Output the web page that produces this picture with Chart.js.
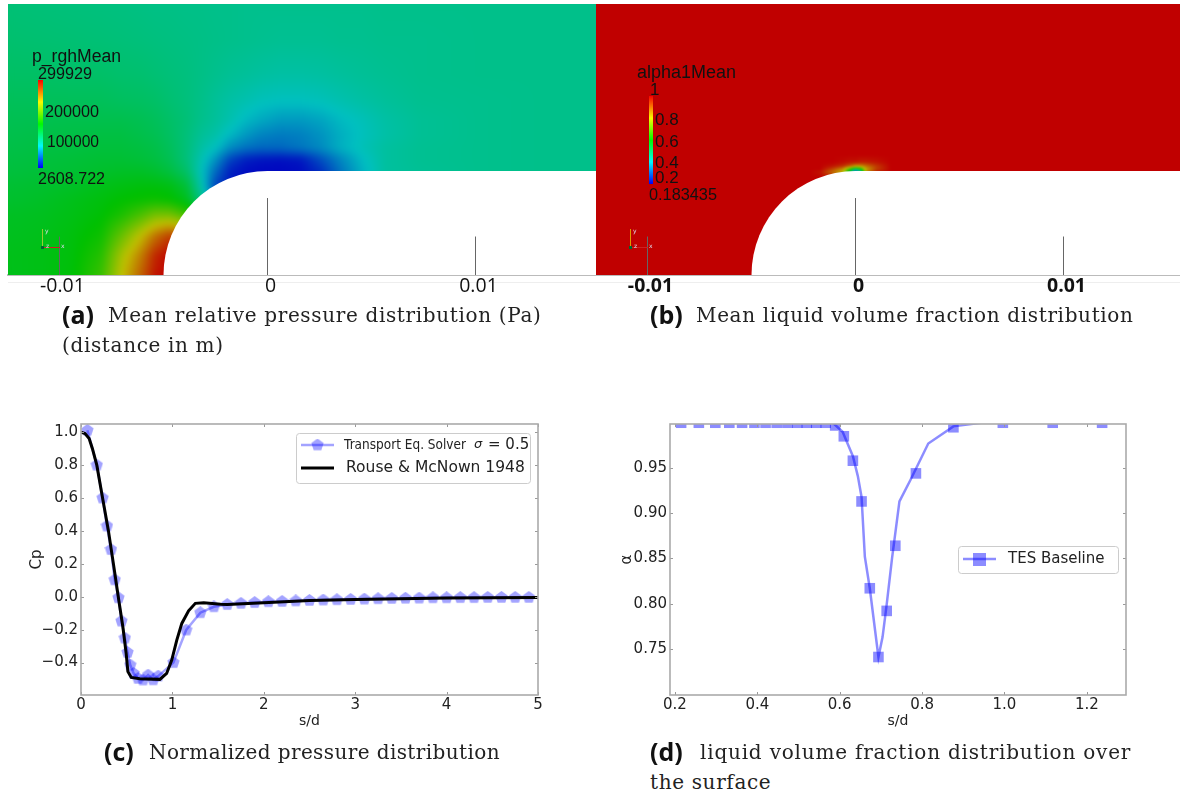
<!DOCTYPE html>
<html>
<head>
<meta charset="utf-8">
<title>Cavitating nozzle results</title>
<script src="https://cdn.jsdelivr.net/npm/chart.js@4"></script>
<style>
  body { margin: 0; background: #fff; width: 1180px; height: 796px; overflow: hidden; position: relative; }
  canvas { position: absolute; }
  #chartC, #chartD { filter: blur(0.5px); }
  .cap { position: absolute; font-family: "DejaVu Serif", serif; font-size: 20px; letter-spacing: 0.65px; color: #222; white-space: nowrap; line-height: 24px; }
  .cap b { font-family: "Open Sans", sans-serif; font-weight: 700; font-size: 25px; letter-spacing: 0; color: #111; }
  .rule { position: absolute; left: 8px; width: 1172px; top: 282px; height: 1px; background: #eee; }
</style>
</head>
<body>
<div class="rule"></div>
<canvas id="chartA" width="596" height="305" style="left:0;top:0"></canvas>
<canvas id="chartB" width="584" height="305" style="left:596px;top:0"></canvas>
<canvas id="chartC" width="560" height="340" style="left:0;top:400px"></canvas>
<canvas id="chartD" width="560" height="340" style="left:610px;top:400px"></canvas>

<div class="cap" style="left:62px;top:302px"><b>(a)</b></div>
<div class="cap" style="left:108px;top:303px">Mean relative pressure distribution (Pa)</div>
<div class="cap" style="left:62px;top:333px">(distance in m)</div>
<div class="cap" style="left:650px;top:302px"><b>(b)</b></div>
<div class="cap" style="left:696px;top:303px">Mean liquid volume fraction distribution</div>
<div class="cap" style="left:104px;top:739px"><b>(c)</b></div>
<div class="cap" style="left:149px;top:740px;letter-spacing:0.4px">Normalized pressure distribution</div>
<div class="cap" style="left:650px;top:739px"><b>(d)</b></div>
<div class="cap" style="left:700px;top:740px;letter-spacing:0.8px">liquid volume fraction distribution over</div>
<div class="cap" style="left:650px;top:770px">the surface</div>

<script>
// s/d vs Cp, panel (c)
const solverS = [0.07, 0.173, 0.236, 0.284, 0.328, 0.369, 0.41, 0.443, 0.48, 0.509, 0.539, 0.576, 0.624, 0.679, 0.734, 0.79, 0.845, 1.011, 1.151, 1.306, 1.454, 1.6, 1.75, 1.9, 2.05, 2.2, 2.35, 2.5, 2.65, 2.8, 2.95, 3.1, 3.25, 3.4, 3.55, 3.7, 3.85, 4.0, 4.15, 4.3, 4.45, 4.6, 4.75, 4.9];
const solverCp = [1.012, 0.8, 0.6, 0.43, 0.287, 0.103, -0.006, -0.148, -0.251, -0.338, -0.415, -0.466, -0.496, -0.506, -0.476, -0.505, -0.482, -0.4, -0.202, -0.097, -0.061, -0.047, -0.04, -0.035, -0.03, -0.028, -0.025, -0.022, -0.02, -0.018, -0.016, -0.014, -0.012, -0.01, -0.009, -0.008, -0.006, -0.006, -0.005, -0.005, -0.004, -0.004, -0.004, -0.004];
const rouseS = [0, 0.044, 0.089, 0.125, 0.173, 0.236, 0.299, 0.365, 0.413, 0.458, 0.494, 0.513, 0.55, 0.642, 0.863, 0.937, 0.993, 1.048, 1.103, 1.177, 1.251, 1.343, 1.528, 1.6, 2.0, 2.5, 3.0, 4.0, 5.0];
const rouseCp = [1.0, 0.992, 0.962, 0.9, 0.8, 0.6, 0.405, 0.162, -0.02, -0.182, -0.344, -0.455, -0.49, -0.498, -0.502, -0.466, -0.385, -0.263, -0.162, -0.085, -0.04, -0.036, -0.045, -0.047, -0.036, -0.022, -0.017, -0.007, -0.005];
const cpXTicks = [0, 1, 2, 3, 4, 5];
const cpYTicks = [-0.4, -0.2, 0, 0.2, 0.4, 0.6, 0.8, 1.0];

// s/d vs alpha, panel (d)
const alphaLineS = [0.2, 0.4, 0.583, 0.607, 0.632, 0.644, 0.653, 0.661, 0.673, 0.694, 0.704, 0.714, 0.727, 0.745, 0.772, 0.815, 0.876, 0.944, 1.3];
const alphaLineV = [1, 1, 1, 0.99, 0.963, 0.941, 0.918, 0.852, 0.817, 0.741, 0.763, 0.799, 0.85, 0.913, 0.937, 0.977, 0.996, 1, 1];
const alphaMarkS = [0.215, 0.258, 0.298, 0.332, 0.363, 0.393, 0.42, 0.447, 0.473, 0.497, 0.52, 0.543, 0.566, 0.589, 0.61, 0.632, 0.653, 0.673, 0.694, 0.714, 0.735, 0.785, 0.876, 0.996, 1.117, 1.237];
const alphaMarkV = [1, 1, 1, 1, 1, 1, 1, 1, 1, 1, 1, 1, 1, 0.997, 0.985, 0.958, 0.913, 0.817, 0.741, 0.792, 0.864, 0.944, 0.995, 1, 1, 1];
const alphaXTicks = [0.2, 0.4, 0.6, 0.8, 1.0, 1.2];
const alphaYTicks = [0.75, 0.8, 0.85, 0.9, 0.95];

// field panels, distances in mm
const distTicks = [-10, 0, 10];
const distLabels = ['-0.01', '0', '0.01'];
const tickTops = [1.85, 3.7, 1.85];
const noseRadius = 5;

const pressureX = [-12.45, -10.9, -9.4, -8.0, -7.0, -6.1, -5.4, -4.7, -3.9, -3.2, -2.5, -1.8, -1.05, -0.35, 0.6, 1.6, 2.55, 3.5, 4.5, 5.65, 7.35, 10.25, 13.1, 15.8];
const pressureY = [0, 0.95, 1.9, 2.9, 3.6, 4.3, 5.0, 5.55, 6.1, 6.75, 7.45, 8.4, 9.6, 11.3, 13.05];
// kPa, one row per pressureY
const pressureKPa = [
  [140, 142, 147, 172, 225, 262, 292, 300, 300, 300, 300, 300, 300, 300, 300, 300, 300, 300, 300, 300, 300, 300, 300, 300],
  [140, 142, 146, 164, 215, 250, 285, 298, 298, 298, 298, 298, 298, 298, 298, 298, 298, 298, 298, 298, 298, 298, 298, 298],
  [138, 140, 145, 155, 190, 225, 255, 275, 260, 240, 240, 240, 240, 240, 240, 240, 240, 240, 240, 240, 240, 240, 240, 240],
  [136, 138, 142, 148, 160, 178, 195, 195, 175, 150, 130, 100, 100, 100, 100, 100, 100, 100, 100, 100, 100, 100, 100, 100],
  [132, 135, 140, 145, 150, 153, 155, 152, 140, 100, 50, 30, 10, 10, 10, 10, 10, 60, 70, 88, 92, 95, 96, 96],
  [130, 132, 135, 140, 143, 145, 145, 142, 128, 85, 25, 10, 5, 3, 3, 5, 10, 38, 68, 88, 92, 95, 96, 96],
  [126, 128, 130, 133, 135, 135, 132, 125, 110, 78, 42, 12, 5, 3, 3, 5, 18, 45, 68, 88, 92, 95, 96, 96],
  [124, 126, 128, 130, 130, 128, 125, 118, 103, 82, 57, 26, 12, 8, 6, 9, 30, 52, 72, 88, 93, 95, 96, 96],
  [122, 124, 125, 127, 127, 125, 122, 115, 103, 87, 75, 54, 44, 40, 40, 46, 54, 68, 78, 88, 93, 95, 96, 96],
  [120, 122, 123, 124, 124, 121, 118, 112, 103, 92, 85, 72, 60, 52, 48, 50, 57, 68, 76, 85, 92, 95, 96, 96],
  [118, 119, 120, 120, 120, 118, 115, 110, 104, 96, 90, 82, 72, 66, 60, 60, 64, 72, 78, 86, 92, 95, 96, 96],
  [115, 115, 115, 115, 113, 112, 110, 106, 102, 97, 91, 86, 82, 78, 76, 76, 78, 82, 86, 90, 94, 95, 96, 96],
  [111, 111, 110, 110, 108, 107, 105, 103, 101, 98, 95, 92, 90, 88, 86, 86, 87, 89, 91, 93, 95, 96, 96, 96],
  [107, 106, 105, 104, 103, 102, 101, 100, 99, 98, 97, 96, 95, 94, 93, 93, 93, 94, 94, 95, 95, 96, 96, 96],
  [104, 103, 102, 101, 100, 99, 98, 98, 97, 97, 96, 96, 95, 95, 95, 95, 95, 95, 95, 96, 96, 96, 96, 96]
];

const liquidX = [-12.5, -2.2, -1.7, -1.1, -0.6, -0.25, 0, 0.25, 0.5, 1.0, 1.7, 15.7];
const liquidY = [0, 4.66, 4.95, 5.1, 5.24, 5.43, 5.77, 13.05];
const liquidAlpha = [
  [1, 1, 1, 1, 1, 1, 1, 1, 1, 1, 1, 1],
  [1, 1, 1, 1, 0.92, 0.7, 0.5, 0.7, 0.92, 1, 1, 1],
  [1, 1, 0.98, 0.88, 0.8, 0.5, 0.22, 0.4, 0.85, 0.97, 1, 1],
  [1, 1, 1, 0.93, 0.85, 0.65, 0.5, 0.6, 0.82, 0.93, 1, 1],
  [1, 1, 1, 0.98, 0.95, 0.9, 0.85, 0.85, 0.88, 0.94, 1, 1],
  [1, 1, 1, 1, 0.99, 0.98, 0.98, 0.97, 0.97, 0.98, 1, 1],
  [1, 1, 1, 1, 1, 1, 1, 1, 1, 1, 1, 1],
  [1, 1, 1, 1, 1, 1, 1, 1, 1, 1, 1, 1]
];

const rainbow = [[0, 0, 192], [0, 192, 192], [0, 192, 0], [192, 192, 0], [192, 0, 0]];

function rainbowAt(t) {
  t = Math.min(1, Math.max(0, t)) * 4;
  const i = Math.min(3, Math.floor(t));
  const f = t - i;
  return rainbow[i].map((c, k) => Math.round(c + (rainbow[i + 1][k] - c) * f));
}

function bracket(list, v) {
  let i = 0;
  while (i < list.length - 2 && list[i + 1] < v) i++;
  return i;
}

function sampleField(xs, ys, rows, x, y) {
  const i = bracket(xs, x), j = bracket(ys, y);
  const fx = Math.min(1, Math.max(0, (x - xs[i]) / (xs[i + 1] - xs[i])));
  const fy = Math.min(1, Math.max(0, (y - ys[j]) / (ys[j + 1] - ys[j])));
  const low = rows[j][i] + (rows[j][i + 1] - rows[j][i]) * fx;
  const high = rows[j + 1][i] + (rows[j + 1][i + 1] - rows[j + 1][i]) * fx;
  return low + (high - low) * fy;
}

// paints the contour field through the scales, then cuts out the white nozzle wall
const fieldPlugin = {
  id: 'field',
  beforeDatasetsDraw(chart, args, opts) {
    if (!opts.rows) return;
    const area = chart.chartArea, sx = chart.scales.x, sy = chart.scales.y;
    const w = Math.round(area.right - area.left), h = Math.round(area.bottom - area.top);
    const off = document.createElement('canvas');
    off.width = w; off.height = h;
    const octx = off.getContext('2d');
    const img = octx.createImageData(w, h);
    for (let py = 0; py < h; py++) {
      const y = sy.getValueForPixel(area.top + py + 0.5);
      for (let px = 0; px < w; px++) {
        const x = sx.getValueForPixel(area.left + px + 0.5);
        const c = rainbowAt(opts.toUnit(sampleField(opts.xs, opts.ys, opts.rows, x, y)));
        const k = (py * w + px) * 4;
        img.data[k] = c[0]; img.data[k + 1] = c[1]; img.data[k + 2] = c[2]; img.data[k + 3] = 255;
      }
    }
    octx.putImageData(img, 0, 0);
    const ctx = chart.ctx;
    ctx.save();
    ctx.beginPath();
    ctx.rect(area.left, area.top, w, h);
    ctx.clip();
    // sharp copy first so the blurred one does not fade out at the edges
    ctx.drawImage(off, area.left, area.top);
    ctx.filter = 'blur(' + opts.blur + 'px)';
    ctx.drawImage(off, area.left, area.top);
    ctx.filter = 'none';
    const cx = sx.getPixelForValue(0), cy = sy.getPixelForValue(0);
    const r = cx - sx.getPixelForValue(-noseRadius);
    ctx.fillStyle = '#fff';
    ctx.beginPath();
    ctx.moveTo(cx - r, cy);
    ctx.arc(cx, cy, r, Math.PI, Math.PI * 1.5);
    ctx.lineTo(area.right + 2, cy - r);
    ctx.lineTo(area.right + 2, cy + 2);
    ctx.lineTo(cx - r, cy + 2);
    ctx.closePath();
    ctx.fill();
    ctx.restore();
  },
  afterDatasetsDraw(chart, args, opts) {
    if (!opts.bar) return;
    const ctx = chart.ctx, b = opts.bar;
    ctx.save();
    const grad = ctx.createLinearGradient(0, b.bottom, 0, b.top);
    rainbow.forEach((c, i) => grad.addColorStop(i / 4, 'rgb(' + c.map(v => Math.min(255, Math.round(v * 1.3))).join(',') + ')'));
    ctx.fillStyle = grad;
    ctx.fillRect(b.x, b.top, b.w, b.bottom - b.top);
    ctx.fillStyle = '#111';
    ctx.textBaseline = 'middle';
    b.labels.forEach(l => {
      ctx.font = (l[4] ? '18px' : '17px') + ' "Liberation Sans"';
      ctx.fillText(l[0], l[1], l[2], l[3]);
    });
    // orientation triad
    const t = opts.triad;
    ctx.lineWidth = 1;
    ctx.strokeStyle = t.up;
    ctx.beginPath(); ctx.moveTo(t.x + 0.5, t.y); ctx.lineTo(t.x + 0.5, t.y - 18); ctx.stroke();
    ctx.strokeStyle = '#c22';
    ctx.beginPath(); ctx.moveTo(t.x, t.y + 0.5); ctx.lineTo(t.x + 18, t.y + 0.5); ctx.stroke();
    ctx.fillStyle = '#063';
    ctx.fillRect(t.x - 1, t.y - 1, 3, 3);
    ctx.fillStyle = '#dde';
    ctx.font = '6px "DejaVu Sans"';
    ctx.fillText('y', t.x + 3, t.y - 16);
    ctx.fillText('z', t.x + 4, t.y - 1);
    ctx.fillText('x', t.x + 19, t.y - 1);
    ctx.restore();
  }
};

// frame with matplotlib style inward ticks plus the boxed legend
const framePlugin = {
  id: 'frame',
  afterDatasetsDraw(chart, args, opts) {
    if (!opts.color) return;
    const ctx = chart.ctx, a = chart.chartArea;
    ctx.save();
    ctx.strokeStyle = '#999';
    ctx.lineWidth = 1;
    ctx.beginPath();
    chart.scales.x.ticks.forEach(t => {
      const x = Math.round(chart.scales.x.getPixelForValue(t.value)) + 0.5;
      ctx.moveTo(x, a.bottom); ctx.lineTo(x, a.bottom - 3);
      ctx.moveTo(x, a.top); ctx.lineTo(x, a.top + 3);
    });
    chart.scales.y.ticks.forEach(t => {
      const y = Math.round(chart.scales.y.getPixelForValue(t.value)) + 0.5;
      ctx.moveTo(a.left, y); ctx.lineTo(a.left + 3, y);
      ctx.moveTo(a.right, y); ctx.lineTo(a.right - 3, y);
    });
    ctx.stroke();
    ctx.strokeStyle = opts.color;
    ctx.lineWidth = 1.6;
    ctx.strokeRect(a.left, a.top, a.right - a.left, a.bottom - a.top);

    const box = opts.legend;
    ctx.fillStyle = '#fff';
    ctx.strokeStyle = '#ccc';
    ctx.lineWidth = 1;
    ctx.beginPath();
    ctx.roundRect(box.x + 0.5, box.y + 0.5, box.w, box.h, 3);
    ctx.fill();
    ctx.stroke();
    box.rows.forEach(row => {
      const x0 = box.x + 5, x1 = box.x + 38;
      ctx.strokeStyle = row.color;
      ctx.lineWidth = row.width;
      ctx.beginPath(); ctx.moveTo(x0, row.y); ctx.lineTo(x1, row.y); ctx.stroke();
      if (row.marker) ctx.drawImage(row.marker, (x0 + x1) / 2 - row.marker.width / 2, row.y - row.marker.height / 2);
      ctx.fillStyle = '#222';
      ctx.textBaseline = 'middle';
      row.texts.forEach(t => {
        ctx.font = t.font;
        ctx.fillText(t.text, t.x, row.y, t.max);
      });
    });
    ctx.restore();
  }
};

Chart.register(fieldPlugin, framePlugin);
Chart.defaults.animation = false;
Chart.defaults.responsive = false;
Chart.defaults.font.family = '"DejaVu Sans"';
Chart.defaults.color = '#222';

function pentagonMarker(size, fill) {
  const c = document.createElement('canvas');
  c.width = c.height = size;
  const ctx = c.getContext('2d');
  ctx.fillStyle = fill;
  ctx.beginPath();
  for (let i = 0; i < 5; i++) {
    const a = -Math.PI / 2 + i * 2 * Math.PI / 5;
    ctx.lineTo(size / 2 + size / 2 * Math.cos(a), size / 2 + size / 2 * Math.sin(a));
  }
  ctx.fill();
  return c;
}

function squareMarker(size, fill) {
  const c = document.createElement('canvas');
  c.width = c.height = size;
  const ctx = c.getContext('2d');
  ctx.fillStyle = fill;
  ctx.fillRect(0, 0, size, size);
  return c;
}

function pairs(xs, ys) {
  return xs.map((x, i) => ({ x: x, y: ys[i] }));
}

function fieldChart(id, xMin, xMax, fontWeight, field) {
  const ticks = distTicks.map((x, i) => ({
    data: [{ x: x, y: 0 }, { x: x, y: tickTops[i] }],
    borderColor: '#666', borderWidth: 1, pointRadius: 0, showLine: true
  }));
  new Chart(document.getElementById(id), {
    type: 'scatter',
    data: { datasets: ticks },
    options: {
      layout: { padding: field.padding },
      plugins: { legend: { display: false }, tooltip: { enabled: false }, field: field },
      scales: {
        x: {
          type: 'linear', min: xMin, max: xMax,
          afterBuildTicks: s => { s.ticks = distTicks.map(v => ({ value: v })); },
          afterFit: s => { s.height = 30; s.paddingLeft = 0; s.paddingRight = 0; },
          grid: { display: false, drawTicks: false },
          border: { color: '#bbb', width: 2 },
          ticks: {
            autoSkip: false, maxRotation: 0, padding: 0, labelOffset: 3,
            font: { size: 19.5, weight: fontWeight, family: '"Open Sans"' }, color: '#111',
            callback: (v, i) => distLabels[i]
          }
        },
        y: { type: 'linear', min: 0, max: 13.03, display: false }
      }
    }
  });
}

function lineScales(xMin, xMax, yMin, yMax, xTicks, yTicks, xFmt, yFmt, yTitle, yTitlePad, leftWidth) {
  return {
    x: {
      type: 'linear', min: xMin, max: xMax,
      afterBuildTicks: s => { s.ticks = xTicks.map(v => ({ value: v })); },
      afterFit: s => { s.height = 40; s.paddingLeft = 0; s.paddingRight = 0; },
      grid: { display: false, drawTicks: false }, border: { display: false },
      ticks: { autoSkip: false, maxRotation: 0, padding: 1, font: { size: 15 }, callback: xFmt },
      title: { display: true, text: 's/d', font: { size: 14 }, padding: { top: 0, bottom: 5 } }
    },
    y: {
      type: 'linear', min: yMin, max: yMax,
      afterBuildTicks: s => { s.ticks = yTicks.map(v => ({ value: v })); },
      afterFit: s => { s.width = leftWidth; s.paddingTop = 0; s.paddingBottom = 0; },
      grid: { display: false, drawTicks: false }, border: { display: false },
      ticks: { autoSkip: false, padding: 3, font: { size: 15 }, callback: yFmt },
      title: { display: true, text: yTitle, font: { size: 15 }, padding: yTitlePad }
    }
  };
}

function initFields() {
  // half pixel shift so the thin tick lines land on one pixel column
  fieldChart('chartA', (7.5 - 267) / 20.8, (595.5 - 267) / 20.8, 'normal', {
    xs: pressureX, ys: pressureY, rows: pressureKPa, toUnit: v => v / 300, blur: 3,
    padding: { left: 8, right: 0, top: 4, bottom: 0 },
    bar: {
      x: 38, w: 5, top: 80, bottom: 168,
      labels: [['p_rghMean', 32, 57, 89, true], ['299929', 38, 74, 54], ['200000', 45, 112, 54], ['100000', 47, 142, 52], ['2608.722', 38, 179, 67]]
    },
    triad: { x: 42, y: 247, up: '#9c3' }
  });
  fieldChart('chartB', -259.5 / 20.8, 324.5 / 20.8, 'bold', {
    xs: liquidX, ys: liquidY, rows: liquidAlpha, toUnit: v => (v - 0.183) / 0.817, blur: 1,
    padding: { left: 0, right: 0, top: 4, bottom: 0 },
    bar: {
      x: 53, w: 4, top: 96, bottom: 184,
      labels: [['alpha1Mean', 41, 73, 100, true], ['1', 54, 90], ['0.8', 59, 120], ['0.6', 59, 142], ['0.4', 59, 163], ['0.2', 59, 178], ['0.183435', 53, 195, 68]]
    },
    triad: { x: 34, y: 247, up: '#d90' }
  });
}

function initCp() {
  const blue = 'rgba(0,0,255,0.36)';
  const pentagon = pentagonMarker(13, blue);
  new Chart(document.getElementById('chartC'), {
    type: 'scatter',
    data: {
      datasets: [
        { label: 'Rouse & McNown 1948', data: pairs(rouseS, rouseCp), showLine: true, borderColor: '#000', borderWidth: 3, pointRadius: 0, order: 0 },
        { label: 'Transport Eq. Solver', data: pairs(solverS, solverCp), showLine: true, borderColor: blue, borderWidth: 2.5, pointStyle: pentagon, order: 1, clip: false }
      ]
    },
    options: {
      layout: { padding: { left: 0, right: 22, top: 24, bottom: 5 } },
      plugins: {
        legend: { display: false }, tooltip: { enabled: false },
        frame: {
          color: '#aaa',
          legend: {
            x: 296, y: 33, w: 234, h: 50,
            rows: [
              { y: 45, color: blue, width: 2.5, marker: pentagon, texts: [
                { text: 'Transport Eq. Solver', x: 344, max: 122, font: '14px "DejaVu Sans"' },
                { text: '\u03c3', x: 474, font: 'italic 13px "DejaVu Sans"' },
                { text: '= 0.5', x: 488, font: '15px "DejaVu Sans"' }
              ] },
              { y: 68, color: '#000', width: 3, texts: [
                { text: 'Rouse & McNown 1948', x: 346, max: 180, font: '15.5px "DejaVu Sans"' }
              ] }
            ]
          }
        }
      },
      scales: lineScales(0, 5, -0.597, 1.05, cpXTicks, cpYTicks,
        v => String(v),
        v => v.toFixed(1).replace('-', '\u2212'),
        'Cp', { top: 28, bottom: 0 }, 81)
    }
  });
}

function initAlpha() {
  const blue = 'rgba(0,0,255,0.45)';
  const square = squareMarker(13, blue);
  new Chart(document.getElementById('chartD'), {
    type: 'scatter',
    data: {
      datasets: [
        { label: 'TES Baseline', data: pairs(alphaMarkS, alphaMarkV), pointStyle: 'rect', pointRadius: 7.5, pointBackgroundColor: blue, pointBorderWidth: 0, clip: 0 },
        { label: 'TES Baseline line', data: pairs(alphaLineS, alphaLineV), showLine: true, borderColor: blue, borderWidth: 2.5, pointRadius: 0, clip: 0 }
      ]
    },
    options: {
      layout: { padding: { left: 0, right: 44, top: 24, bottom: 5 } },
      plugins: {
        legend: { display: false }, tooltip: { enabled: false },
        frame: {
          color: '#aaa',
          legend: {
            x: 348, y: 146, w: 160, h: 27,
            rows: [
              { y: 159, color: blue, width: 2.5, marker: square, texts: [
                { text: 'TES Baseline', x: 398, font: '15px "DejaVu Sans"' }
              ] }
            ]
          }
        }
      },
      scales: lineScales(0.188, 1.295, 0.699, 0.9986, alphaXTicks, alphaYTicks,
        v => v.toFixed(1),
        v => v.toFixed(2),
        '\u03b1', { top: 8, bottom: 0 }, 60)
    }
  });
}

initFields();
initCp();
initAlpha();
</script>
</body>
</html>
